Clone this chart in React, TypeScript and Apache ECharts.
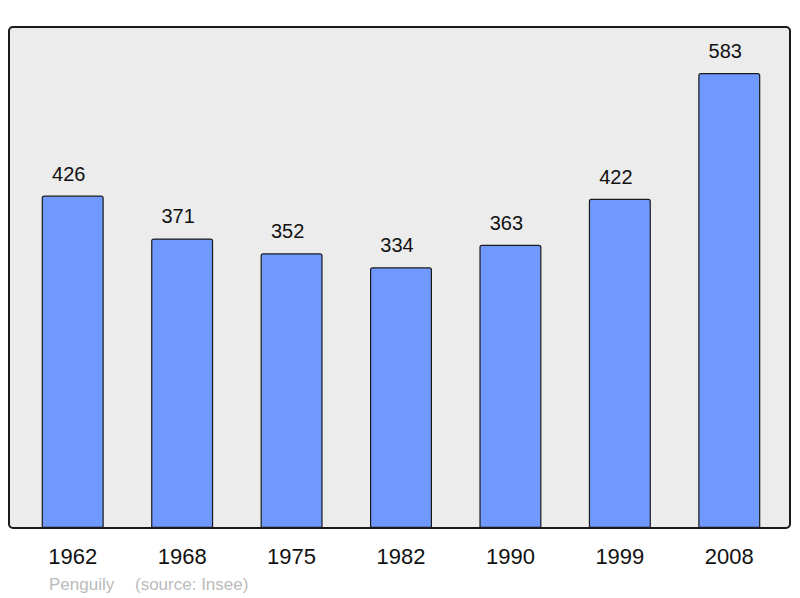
import React, { useEffect, useRef } from "react";
import * as echarts from "echarts";

const years = ["1962", "1968", "1975", "1982", "1990", "1999", "2008"];
const population = [426, 371, 352, 334, 363, 422, 583];
const footerName = "Penguily";
const footerSource = "(source: Insee)";

export default function App() {
  const ref = useRef<HTMLDivElement>(null);
  useEffect(() => {
    if (!ref.current) return;
    const chart = echarts.init(ref.current, null, { renderer: "svg" });
    chart.setOption({
      animation: false,
      textStyle: { fontFamily: "Liberation Sans, Arial, sans-serif" },
      graphic: [
        {
          type: "rect",
          z: -10,
          shape: { x: 9, y: 27, width: 781, height: 501, r: 4 },
          style: { fill: "#ececec", stroke: "#1a1a1a", lineWidth: 2 },
        },
        {
          type: "text",
          x: 49,
          y: 584,
          style: {
            text: footerName,
            fill: "#bbbbbb",
            font: "17px Liberation Sans, Arial, sans-serif",
            verticalAlign: "middle",
          },
        },
        {
          type: "text",
          x: 135,
          y: 584,
          style: {
            text: footerSource,
            fill: "#bbbbbb",
            font: "17px Liberation Sans, Arial, sans-serif",
            verticalAlign: "middle",
          },
        },
      ],
      grid: { left: 18, right: 16, top: 27, bottom: 70, containLabel: false },
      xAxis: {
        type: "category",
        data: years,
        axisLine: { show: false },
        axisTick: { show: false },
        axisLabel: {
          color: "#111",
          fontSize: 22,
          margin: 17,
          fontFamily: "Liberation Sans, Arial, sans-serif",
        },
      },
      yAxis: {
        type: "value",
        min: 0,
        max: 642,
        show: false,
        splitLine: { show: false },
      },
      series: [
        {
          type: "bar",
          data: population,
          barWidth: 62,
          itemStyle: {
            color: "#7099ff",
            borderColor: "#1a1a1a",
            borderWidth: 1.2,
            borderRadius: [2, 2, 0, 0],
          },
          label: {
            show: true,
            position: "top",
            distance: 12,
            offset: [-4, 0],
            color: "#111",
            fontSize: 20,
            fontFamily: "Liberation Sans, Arial, sans-serif",
          },
        },
      ],
    });
    return () => chart.dispose();
  }, []);
  return (
    <div
      ref={ref}
      style={{ position: "fixed", left: 0, top: 0, width: 800, height: 598, background: "#fff" }}
    />
  );
}
